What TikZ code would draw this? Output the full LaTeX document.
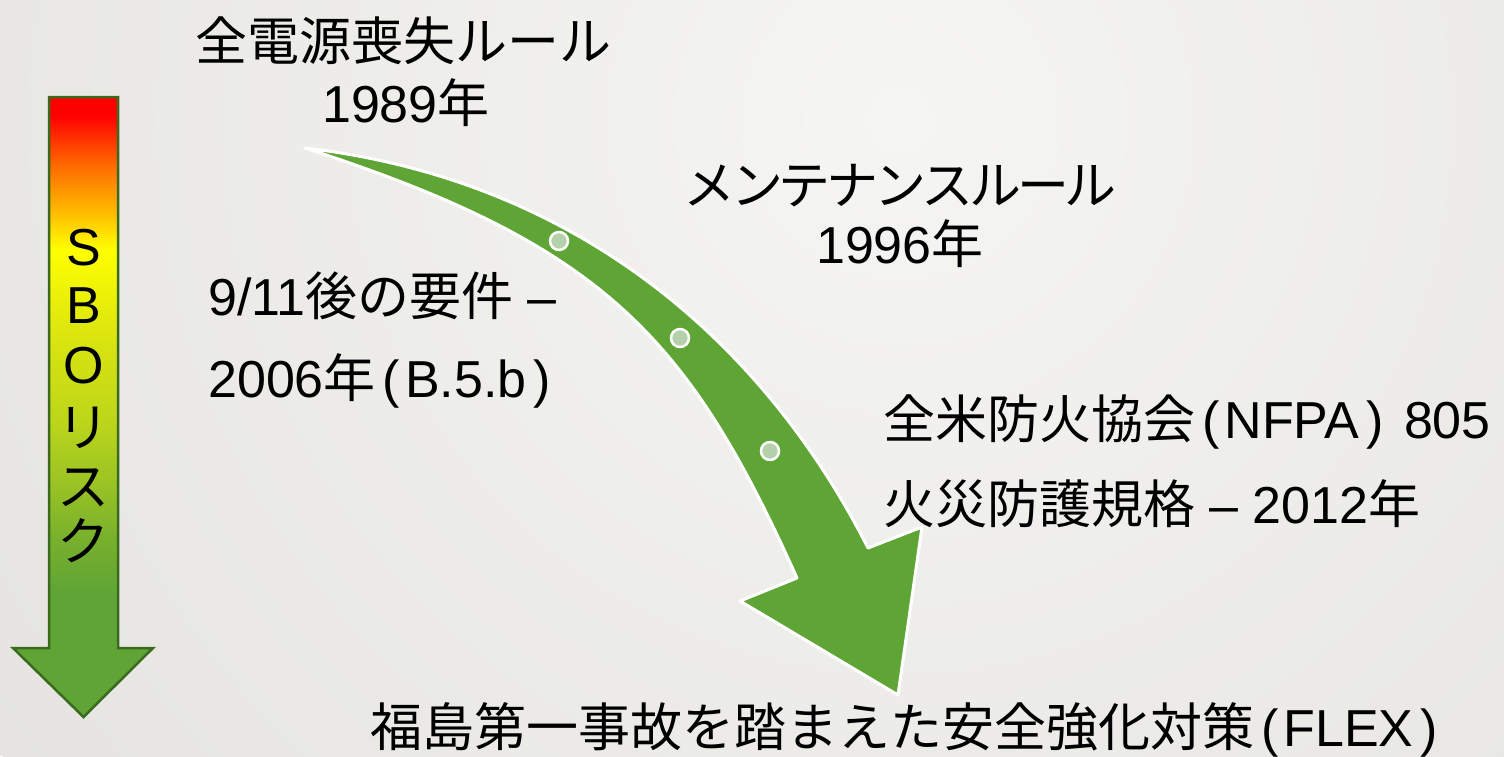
\documentclass[tikz,border=0pt]{standalone}
\usepackage{fontspec}
\setmainfont{Liberation Sans}
\newfontfamily\jp{Noto Sans CJK JP}
\newfontfamily\jpk[LetterSpace=-8]{Noto Sans CJK JP}
\newcommand{\J}[1]{{\jp #1}}
\newcommand{\lpar}{\hspace{7pt}(\hspace{5pt}}
\newcommand{\rpar}{\hspace{7pt})\hspace{6pt}}
\definecolor{bgin}{HTML}{F5F5F3}
\definecolor{bgout}{HTML}{E5E4E0}
\definecolor{arrgreen}{HTML}{5FA535}
\definecolor{dotfill}{HTML}{B5D1AB}
\definecolor{sgreen}{HTML}{5FA535}
\definecolor{sc1}{HTML}{78B02C}
\definecolor{sc2}{HTML}{9CC424}
\definecolor{sc3}{HTML}{BDD61A}
\definecolor{sc3b}{HTML}{DDE60E}
\definecolor{syel}{HTML}{FFFF00}
\definecolor{sc4}{HTML}{FFC000}
\definecolor{sc5}{HTML}{FF6A00}
\definecolor{sred}{HTML}{FF0000}
\definecolor{sborder}{HTML}{3B6A1F}
\pgfdeclareverticalshading{sbo}{100bp}{color(0bp)=(sgreen); color(35.2bp)=(sgreen); color(39.3bp)=(sc1); color(44.1bp)=(sc2); color(49bp)=(sc3); color(56.2bp)=(sc3b); color(62.7bp)=(syel); color(65.5bp)=(sc4); color(69.5bp)=(sc5); color(73.5bp)=(sred); color(100bp)=(sred)}
\tikzset{
  sboarrow/.style={shading=sbo, draw=sborder, line width=2.5pt, line join=miter},
  bigarrow/.style={fill=arrgreen, draw=white, line width=3pt, line join=round},
  dotnode/.style={circle, fill=dotfill, draw=white, line width=2.5pt, minimum size=18pt, inner sep=0pt},
  txt/.style={inner sep=0pt, font=\fontsize{52}{60}\selectfont},
  vtxt/.style={inner sep=0pt, anchor=base, font=\fontsize{52}{60}\selectfont},
}
\begin{document}
\begin{tikzpicture}[x=1pt,y=-1pt]
\useasboundingbox (0,0) rectangle (1504,756);
\begin{scope}
  \clip (0,0) rectangle (1504,756);
  \fill[bgout] (0,0) rectangle (1504,756);
  \shade[inner color=bgin, outer color=bgout] (900,120) circle (1100);
\end{scope}
% SBO risk arrow
\draw[sboarrow] (49,97) -- (118,97) -- (118,648) -- (153,648) -- (83.5,717) -- (13,648) -- (49,648) -- cycle;
\node[vtxt] (s1) at (83.5,265) {S};
\node[vtxt] (s2) at (83.5,323) {B};
\node[vtxt] (s3) at (83.5,383) {O};
\node[vtxt] (s4) at (83.5,446) {\J{リ}};
\node[vtxt] (s5) at (83.5,505) {\J{ス}};
\node[vtxt] (s6) at (83.5,560) {\J{ク}};
% big curved arrow
\draw[bigarrow] (305,148) .. controls (580,180) and (765,345) .. (868,548) -- (922,527) -- (898,695) -- (740,601) -- (797,578) .. controls (689,338) and (605,245) .. (305,148) -- cycle;
\node[dotnode] (d1) at (559,241) {};
\node[dotnode] (d2) at (680,338) {};
\node[dotnode] (d3) at (770,451) {};
% texts
\node[txt, anchor=base] (t1a) at (403,60) {\J{全電源喪失ルール}};
\node[txt, anchor=base] (t1b) at (406,122) {1989\J{年}};
\node[txt, anchor=base] (t2a) at (900,204) {{\jpk メンテナンスルール}};
\node[txt, anchor=base] (t2b) at (900,263) {1996\J{年}};
\node[txt, anchor=base west] (t3a) at (208,315) {9/11\J{後の要件} –};
\node[txt, anchor=base west] (t3b) at (208,397) {2006\J{年}\lpar B.5.b\rpar};
\node[txt, anchor=base west] (t4a) at (883,438) {\J{全米防火協会}\lpar NFPA\rpar\ 805};
\node[txt, anchor=base west] (t4b) at (883,523) {\J{火災防護規格} – 2012\J{年}};
\node[txt, anchor=base west] (t5) at (370,746) {\J{福島第一事故を踏まえた安全強化対策}\lpar FLEX\rpar};
\end{tikzpicture}
\end{document}
